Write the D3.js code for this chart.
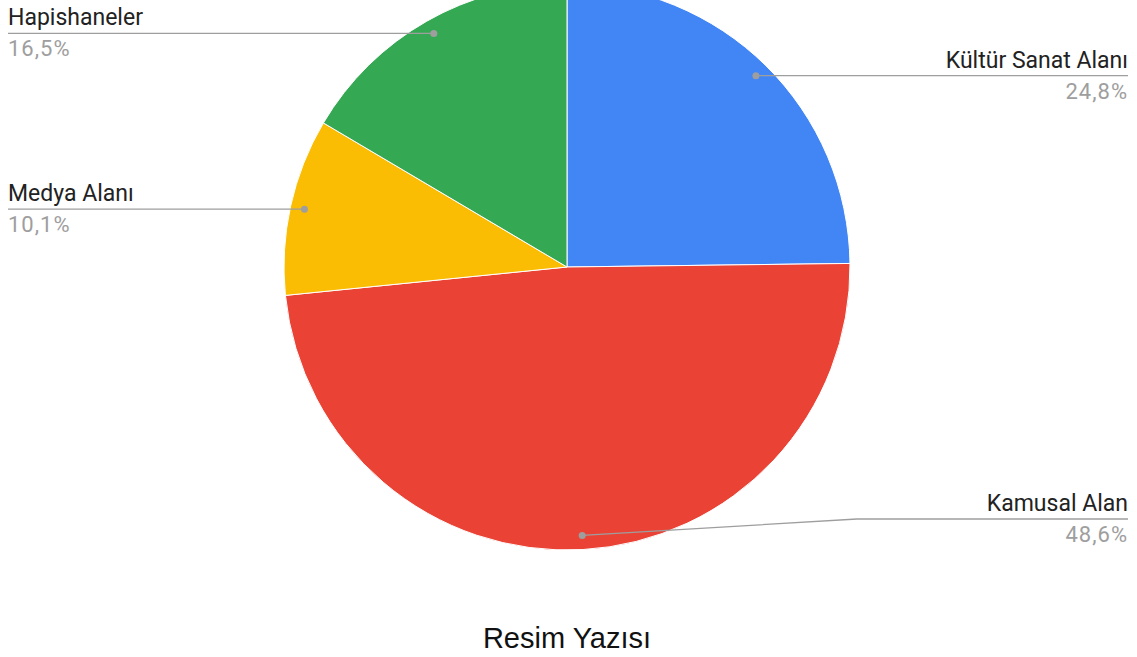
<!DOCTYPE html>
<html lang="tr">
<head>
<meta charset="UTF-8">
<title>Resim Yazısı</title>
<style>
  body { margin: 0; background: #fff; }
  svg { display: block; }
</style>
<script src="https://cdn.jsdelivr.net/npm/d3@7"></script>
</head>
<body>
<script>
// data, clockwise from 12 o'clock
var categories = ["Kültür Sanat Alanı", "Kamusal Alan", "Medya Alanı", "Hapishaneler"];
var values = [24.8, 48.6, 10.1, 16.5];
var percentLabels = ["24,8%", "48,6%", "10,1%", "16,5%"];
var colors = ["#4285f4", "#ea4335", "#fbbc04", "#34a853"];
var title = "Resim Yazısı";

var width = 1137, height = 657;
var cx = 567, cy = 267, radius = 283;
var leftX = 8, rightX = 1128;
var maxLabelY = 519; // labels may not sit lower than this

var svg = d3.select("body").append("svg")
    .attr("width", width)
    .attr("height", height);

var data = categories.map(function(c, i) {
    return {name: c, value: values[i], pct: percentLabels[i], color: colors[i]};
});

var pie = d3.pie().sort(null).value(d => d.value);
var arc = d3.arc().innerRadius(0).outerRadius(radius);
var dotArc = d3.arc().innerRadius(radius * 0.95).outerRadius(radius * 0.95);

var arcs = pie(data);

var g = svg.append("g")
    .attr("transform", "translate(" + cx + "," + cy + ")");

g.selectAll("path.slice")
    .data(arcs)
    .enter()
    .append("path")
    .attr("class", "slice")
    .attr("d", arc)
    .attr("fill", d => d.data.color)
    .attr("stroke", "#fff")
    .attr("stroke-width", 1);

// leader lines + labels
arcs.forEach(function(d) {
    var p = dotArc.centroid(d);
    var px = cx + p[0], py = cy + p[1];
    var mid = (d.startAngle + d.endAngle) / 2;
    var right = Math.sin(mid) > 0;
    var endX = right ? rightX : leftX;
    var ly = Math.min(py, maxLabelY);

    var pts = [[px, py]];
    if (ly !== py) pts.push([cx + radius + 7, ly]);
    pts.push([endX, ly]);

    svg.append("path")
        .attr("d", d3.line()(pts))
        .attr("fill", "none")
        .attr("stroke", "#9e9e9e")
        .attr("stroke-width", 1.3);

    svg.append("circle")
        .attr("cx", px)
        .attr("cy", py)
        .attr("r", 3.5)
        .attr("fill", "#9e9e9e");

    svg.append("text")
        .attr("x", endX)
        .attr("y", ly - 8)
        .attr("text-anchor", right ? "end" : "start")
        .style("font-family", "Roboto, Arial, sans-serif")
        .style("font-size", "23px")
        .style("fill", "#222")
        .text(d.data.name);

    svg.append("text")
        .attr("x", endX)
        .attr("y", ly + 23)
        .attr("text-anchor", right ? "end" : "start")
        .style("font-family", "Roboto, Arial, sans-serif")
        .style("font-size", "22px")
        .style("letter-spacing", "1px")
        .style("fill", "#9e9e9e")
        .text(d.data.pct);
});

svg.append("text")
    .attr("x", cx)
    .attr("y", 648)
    .attr("text-anchor", "middle")
    .style("font-family", "'Liberation Sans', Arial, sans-serif")
    .style("font-size", "29px")
    .style("fill", "#111")
    .text(title);
</script>
</body>
</html>
